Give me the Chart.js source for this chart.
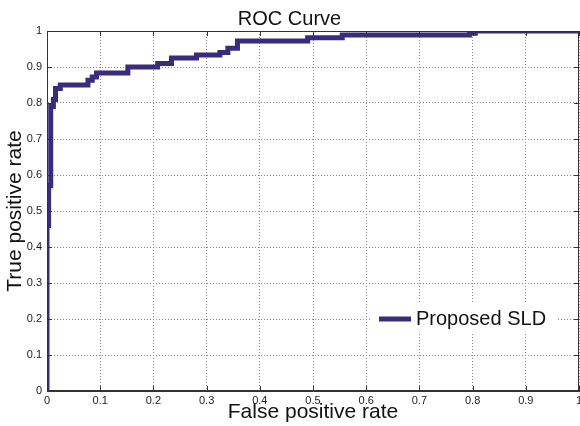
<!DOCTYPE html>
<html>
<head>
<meta charset="utf-8">
<script src="https://cdn.jsdelivr.net/npm/chart.js@4/dist/chart.umd.min.js"></script>
<style>
  html, body { margin: 0; padding: 0; background: #fff; }
  #wrap { width: 580px; height: 426px; }
</style>
</head>
<body>
<div id="wrap"><canvas id="roc"></canvas></div>
<script>
// ROC curve (step corners: fpr where the step happens, tpr after it)
const fpr = [0, 0, 0.003, 0.007, 0.012, 0.016, 0.025, 0.077, 0.085, 0.093, 0.152, 0.208, 0.234, 0.281, 0.325, 0.34, 0.358, 0.49, 0.555, 0.794, 0.805, 1];
const tpr = [0, 0.46, 0.57, 0.79, 0.81, 0.84, 0.85, 0.863, 0.872, 0.883, 0.9, 0.91, 0.925, 0.933, 0.94, 0.952, 0.972, 0.981, 0.989, 0.994, 1, 1];
const tickVals = [0, 0.1, 0.2, 0.3, 0.4, 0.5, 0.6, 0.7, 0.8, 0.9, 1];
const seriesName = 'Proposed SLD';

const lineColor = '#3b2b7d';
const font = 'Liberation Sans, Arial, sans-serif';

// MATLAB style box with inward ticks on all four sides
const framePlugin = {
  id: 'frame',
  afterDatasetsDraw(chart) {
    const { ctx, chartArea: a, scales } = chart;
    ctx.save();
    ctx.strokeStyle = '#333';
    ctx.lineWidth = 1;
    ctx.strokeRect(a.left + 0.5, a.top + 0.5, a.right - a.left - 1, a.bottom - a.top - 1);
    ctx.beginPath();
    tickVals.forEach(v => {
      const x = Math.round(scales.x.getPixelForValue(v)) + 0.5;
      ctx.moveTo(x, a.bottom); ctx.lineTo(x, a.bottom - 5);
      ctx.moveTo(x, a.top); ctx.lineTo(x, a.top + 5);
      const y = Math.round(scales.y.getPixelForValue(v)) + 0.5;
      ctx.moveTo(a.left, y); ctx.lineTo(a.left + 5, y);
      ctx.moveTo(a.right, y); ctx.lineTo(a.right - 5, y);
    });
    ctx.stroke();
    ctx.restore();
  }
};

// legend inside the axes, lower right, white background over the grid
const legendPlugin = {
  id: 'innerLegend',
  afterDraw(chart) {
    const { ctx, chartArea: a } = chart;
    const ds = chart.data.datasets[0];
    const x0 = a.right - 207, y0 = a.bottom - 87;
    ctx.save();
    ctx.fillStyle = '#fff';
    ctx.fillRect(x0, y0, 184, 30);
    ctx.strokeStyle = ds.borderColor;
    ctx.lineWidth = 5;
    ctx.beginPath();
    ctx.moveTo(x0 + 7, y0 + 15);
    ctx.lineTo(x0 + 39, y0 + 15);
    ctx.stroke();
    ctx.fillStyle = '#111';
    ctx.font = '20px ' + font;
    ctx.textBaseline = 'middle';
    ctx.fillText(ds.label, x0 + 44, y0 + 15);
    ctx.restore();
  }
};

const points = fpr.map((v, i) => ({ x: v, y: tpr[i] }));

const gridOpts = { color: '#8a8a8a', lineWidth: 1, drawTicks: false };
const borderOpts = { display: true, color: '#333', dash: [1, 2] };

new Chart(document.getElementById('roc'), {
  type: 'line',
  data: {
    datasets: [{
      label: seriesName,
      data: points,
      borderColor: lineColor,
      borderWidth: 5,
      pointRadius: 0,
      stepped: 'before',
      fill: false,
      borderCapStyle: 'butt',
      borderJoinStyle: 'miter'
    }]
  },
  options: {
    responsive: true,
    maintainAspectRatio: false,
    animation: false,
    layout: { padding: { left: 0, right: 1, top: 0, bottom: 0 } },
    plugins: {
      legend: { display: false },
      tooltip: { enabled: false },
      title: {
        display: true,
        text: 'ROC Curve',
        color: '#111',
        font: { family: font, size: 20, weight: 'normal', lineHeight: 1.2 },
        padding: { top: 7, bottom: 0 }
      }
    },
    scales: {
      x: {
        type: 'linear',
        min: 0, max: 1,
        afterBuildTicks: s => { s.ticks = tickVals.map(v => ({ value: v })); },
        afterFit: s => { s.height = 35; s.paddingLeft = 0; s.paddingRight = 0; },
        grid: gridOpts,
        border: borderOpts,
        ticks: {
          color: '#222', padding: 3, maxRotation: 0,
          font: { family: font, size: 11 },
          callback: v => String(v)
        },
        title: {
          display: true, text: 'False positive rate', color: '#111',
          font: { family: font, size: 21, lineHeight: 1.2 },
          padding: { top: 0, bottom: 1 }
        }
      },
      y: {
        type: 'linear',
        min: 0, max: 1,
        afterBuildTicks: s => { s.ticks = tickVals.map(v => ({ value: v })); },
        afterFit: s => { s.width = 47; s.paddingTop = 0; s.paddingBottom = 0; },
        grid: gridOpts,
        border: borderOpts,
        ticks: {
          color: '#222', padding: 5,
          font: { family: font, size: 11 },
          callback: v => String(v)
        },
        title: {
          display: true, text: 'True positive rate', color: '#111',
          font: { family: font, size: 21, lineHeight: 1.2 },
          padding: { top: 3, bottom: 0 }
        }
      }
    }
  },
  plugins: [framePlugin, legendPlugin]
});
</script>
</body>
</html>
